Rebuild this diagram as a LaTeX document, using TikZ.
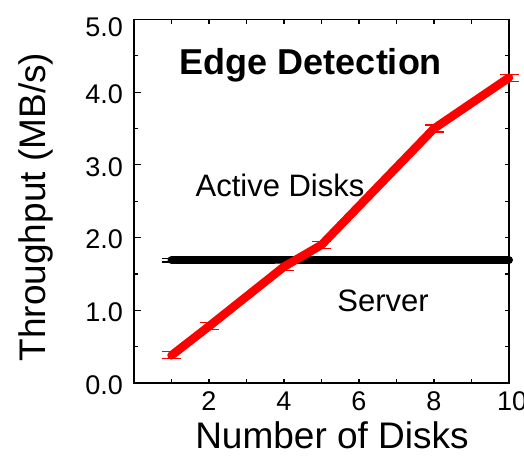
\documentclass[tikz,border=0pt]{standalone}
\usepackage{fontspec}
\setmainfont{Liberation Sans}
\begin{document}
\begin{tikzpicture}[x=1pt,y=-1pt,
  axisline/.style={line width=1.4pt,black},
  tickline/.style={line width=1.1pt,black},
  ticklab/.style={font=\fontsize{27}{30}\selectfont,inner sep=0pt},
  axlab/.style={font=\fontsize{37}{40}\selectfont,inner sep=0pt},
  curvelab/.style={font=\fontsize{31}{34}\selectfont,inner sep=0pt},
  titlelab/.style={font=\fontsize{36}{40}\selectfont\bfseries,inner sep=0pt},
  redcurve/.style={line width=8.5pt,red,line cap=round,line join=round},
  blackcurve/.style={line width=8pt,black,line cap=round},
  errbar/.style={line width=1.2pt}]
\useasboundingbox (0,0) rectangle (524,455);
\fill[white] (0,0) rectangle (524,455);
\begin{scope}[shift={(134pt,-383pt)},x=37.5pt,y=72.7pt]
  % frame
  \draw[axisline] (0,0) rectangle (10,5);
  % left and right ticks
  \foreach \v in {0,1,2,3,4,5} {
    \draw[tickline] (0,\v) -- ++(7pt,0);
  }
  \foreach \v in {0.5,1.5,2.5,3.5,4.5} {
    \draw[tickline] (0,\v) -- ++(4pt,0);
  }
  \foreach \v in {0.5,1,...,4.5} {
    \draw[tickline] (10,\v) -- ++(-4.5pt,0);
  }
  % top and bottom ticks
  \foreach \u in {1,...,9} {
    \draw[tickline] (\u,5) -- ++(0,-4pt);
    \draw[tickline] (\u,0) -- ++(0,4pt);
  }
  % tick labels
  \foreach \v/\lab in {0/0.0,1/1.0,2/2.0,3/3.0,4/4.0} {
    \node[ticklab,anchor=east] (yl\v) at ([xshift=-11pt,yshift=-2pt]0,\v) {\lab};
  }
  \node[ticklab,anchor=east] (yl5) at ([xshift=-11pt,yshift=-8pt]0,5) {5.0};
  \foreach \u in {2,4,6,8} {
    \node[ticklab,anchor=base] (xl\u) at ([yshift=-27pt]\u,0) {\u};
  }
  \node[ticklab,anchor=base west] (xl10) at ([xshift=-12pt,yshift=-27pt]10,0) {10};
  % data points
  \coordinate (s1) at (1,1.69);
  \coordinate (s10) at (10,1.69);
  \coordinate (a1) at (1,0.38);
  \coordinate (a2) at (2,0.78);
  \coordinate (a4) at (4,1.6);
  \coordinate (a5) at (5,1.9);
  \coordinate (a8) at (8,3.5);
  \coordinate (a10) at (10,4.2);
  % server error bar
  \foreach \e in {-0.025,0.025} {
    \draw[errbar,black] ([xshift=-9.5pt]1,1.69+\e) -- ([xshift=9.5pt]1,1.69+\e);
  }
  % curves
  \draw[blackcurve] (s1) -- (s10);
  \draw[redcurve] (a1) -- (a2) -- (a4) -- (a5) -- (a8) -- (a10);
  % active disks error bars
  \foreach \u/\v in {1/0.38,2/0.78,4/1.6,5/1.9,8/3.5,10/4.2} {
    \foreach \e in {-0.048,0.048} {
      \draw[errbar,red] ([xshift=-9.5pt]\u,\v+\e) -- ([xshift=9.5pt]\u,\v+\e);
    }
  }
\end{scope}
% labels
\node[titlelab,anchor=base] (title) at (311,74) {Edge Detection};
\node[curvelab,anchor=base] (active) at (280,196) {Active Disks};
\node[curvelab,anchor=base] (server) at (383,311) {Server};
\node[axlab,anchor=base] (xlabel) at (332,448) {Number of Disks};
\node[axlab,anchor=base,rotate=90] (ylabel) at (45,207) {Throughput (MB/s)};
\end{tikzpicture}
\end{document}
